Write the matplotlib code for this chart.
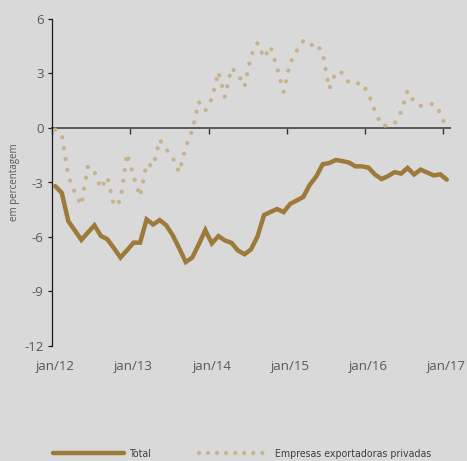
import numpy as np
import matplotlib
matplotlib.use("Agg")
import matplotlib.pyplot as plt
import matplotlib.font_manager as fm
from matplotlib.lines import Line2D

# ---- data ----
tick_labels = ["jan/12", "jan/13", "jan/14", "jan/15", "jan/16", "jan/17"]
total = [-3.2, -3.57, -5.13, -5.64, -6.16, -5.75, -5.36, -5.94, -6.13, -6.62, -7.13,
         -6.73, -6.31, -6.31, -5.03, -5.31, -5.07, -5.35, -5.9, -6.62, -7.38,
         -7.13, -6.4, -5.62, -6.35, -5.95, -6.19, -6.32, -6.74, -6.95, -6.68,
         -5.97, -4.79, -4.62, -4.46, -4.63, -4.18, -3.99, -3.8, -3.13, -2.67,
         -1.99, -1.93, -1.76, -1.82, -1.9, -2.11, -2.11, -2.18, -2.56, -2.81,
         -2.65, -2.43, -2.51, -2.2, -2.56, -2.29, -2.45, -2.61, -2.55, -2.84]
privadas = [-0.09, -0.37, -2.65, -3.55, -4.25, -2.1, -2.4, -3.33, -2.7, -4.3, -4.0,
            -1.41, -2.65, -3.77, -1.96, -2.12, -0.65, -1.15, -1.63, -2.43, -1.03,
            -0.15, 1.44, 0.95, 1.61, 3.09, 1.72, 3.31, 2.98, 2.27, 3.97,
            4.68, 3.86, 4.49, 3.31, 1.99, 3.58, 4.24, 4.79, 4.52, 4.68,
            4.08, 2.16, 3.09, 3.04, 2.49, 2.43, 2.49, 1.88, 0.95, 0.13,
            0.13, 0.24, 0.89, 2.05, 1.44, 1.22, 1.28, 1.33, 0.84, -0.09]
series_names = ["Total", "Empresas exportadoras privadas"]

BG = "#D9D9D9"
C_TOTAL = "#9C7A3A"
C_PRIV = "#C9B18B"
GRAY = "#595959"


def _wt(f):
    w = f.weight
    if isinstance(w, (int, float)):
        return int(w)
    return fm.weight_dict.get(str(w).lower(), 400)


# pick a regular-weight condensed font for the legend if one is installed
cands = []
for f in fm.fontManager.ttflist:
    nm = f.name.lower()
    fn = f.fname.lower()
    if ("narrow" in nm or "condensed" in nm or "condensed" in fn
            or f.stretch in ("condensed", "semi-condensed")) and f.style == "normal":
        w = _wt(f)
        if "bold" in fn or "black" in fn or "semibold" in fn or "medium" in fn:
            w = max(w, 600)
        cands.append((abs(w - 380), f))
cands.sort(key=lambda t: t[0])
cond_props = None
if cands and cands[0][0] <= 120:
    cond_props = fm.FontProperties(fname=cands[0][1].fname)

months = np.arange(len(total)) + 0.5
tick_pos = np.arange(len(tick_labels)) * 12

fig = plt.figure(figsize=(4.67, 4.61), dpi=100, facecolor=BG)
ax = fig.add_axes([52 / 467, 1 - 346 / 461, 398 / 467, 327 / 461])
ax.set_facecolor(BG)

ax.plot(months, privadas, color=C_PRIV, lw=3.1, linestyle=(0, (0.001, 2.55)),
        dash_capstyle="round", solid_capstyle="round", zorder=3)
ax.plot(months, total, color=C_TOTAL, lw=3.2, solid_capstyle="round",
        solid_joinstyle="miter", zorder=4)

ax.set_xlim(0, 61)
ax.set_ylim(-12, 6)
ax.set_yticks(np.arange(-12, 7, 3))
ax.set_yticklabels([str(v) for v in range(-12, 7, 3)])

for s in ["top", "right"]:
    ax.spines[s].set_visible(False)
ax.spines["left"].set_color("#1a1a1a")
ax.spines["left"].set_linewidth(0.9)
ax.spines["bottom"].set_position(("data", 0))
ax.spines["bottom"].set_color(GRAY)
ax.spines["bottom"].set_linewidth(1.4)
ax.spines["bottom"].set_zorder(2)

ax.tick_params(axis="y", direction="out", length=3, width=0.9, color="#1a1a1a",
               labelsize=9.5, labelcolor=GRAY, pad=3)
ax.set_xticks(tick_pos)
ax.tick_params(axis="x", direction="out", length=4.5, width=1.0, color="#333333",
               labelbottom=False)

sec = ax.secondary_xaxis("bottom")
sec.set_xticks(tick_pos + 0.5)
sec.set_xticklabels(tick_labels)
sec.tick_params(length=0, labelsize=9.5, labelcolor=GRAY, pad=10)
for s in sec.spines.values():
    s.set_visible(False)

for lab in sec.get_xticklabels() + ax.get_yticklabels():
    lab.set_fontfamily(["Open Sans", "DejaVu Sans"])

ax.set_ylabel("em percentagem", fontsize=7, color=GRAY,
              fontfamily=["Open Sans", "DejaVu Sans"], labelpad=3)

h1 = Line2D([], [], color=C_TOTAL, lw=3.2, solid_capstyle="round")
h2 = Line2D([], [], color=C_PRIV, lw=3.1, linestyle=(0, (0.001, 2.1)),
            dash_capstyle="round")

if cond_props is not None:
    prop = cond_props.copy()
    prop.set_size(10)
else:
    prop = fm.FontProperties(family=["Open Sans", "DejaVu Sans"], size=10)

# shrink the legend font if it would be much wider than the reference text (~140 px)
r = fig.canvas.get_renderer()
tt = fig.text(0, 0, series_names[1], fontproperties=prop)
w = tt.get_window_extent(renderer=r).width
tt.remove()
if w > 156:
    prop.set_size(10 * 156 / w)
fs = prop.get_size_in_points()

leg = fig.legend([h1, h2], series_names, loc="center",
                 bbox_to_anchor=(242 / 467, 1 - 454 / 461),
                 ncol=2, frameon=False, handlelength=71 / (fs * 100 / 72),
                 handletextpad=5 / (fs * 100 / 72),
                 columnspacing=48 / (fs * 100 / 72), borderaxespad=0,
                 prop=prop)
for t in leg.get_texts():
    t.set_color("#404040")

fig.savefig("out.png", dpi=100, facecolor=BG)
